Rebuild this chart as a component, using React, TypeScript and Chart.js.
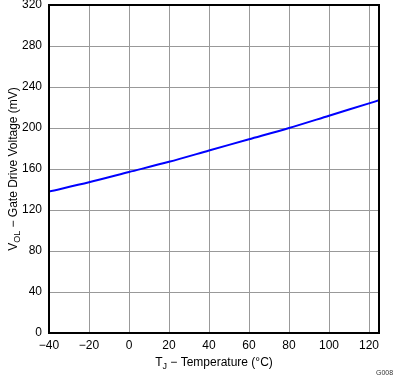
import React, { useEffect, useRef } from "react";
import { Chart, registerables } from "chart.js";

Chart.register(...registerables);

const temps = [-40, -20, 0, 20, 40, 60, 80, 100, 120, 125];
const vol = [138, 147, 157, 167, 178, 189, 200, 212, 224, 227];
const xTicks = [-40, -20, 0, 20, 40, 60, 80, 100, 120];
const yTicks = [0, 40, 80, 120, 160, 200, 240, 280, 320];

const FONT = "Liberation Sans, Arial, sans-serif";

type Seg = { t: string; sub?: boolean };
const yTitle: Seg[] = [{ t: "V" }, { t: "OL", sub: true }, { t: " \u2212 Gate Drive Voltage (mV)" }];
const xTitle: Seg[] = [{ t: "T" }, { t: "J", sub: true }, { t: " \u2212 Temperature (\u00B0C)" }];

function drawSegs(ctx: CanvasRenderingContext2D, segs: Seg[], cx: number, cy: number) {
  const main = `12px ${FONT}`;
  const sub = `9px ${FONT}`;
  let total = 0;
  for (const s of segs) {
    ctx.font = s.sub ? sub : main;
    total += ctx.measureText(s.t).width;
  }
  let x = cx - total / 2;
  ctx.textBaseline = "alphabetic";
  ctx.textAlign = "left";
  for (const s of segs) {
    ctx.font = s.sub ? sub : main;
    ctx.fillText(s.t, x, s.sub ? cy + 3 : cy);
    x += ctx.measureText(s.t).width;
  }
}

const framePlugin = {
  id: "frameTitles",
  afterDraw(chart: any) {
    const { ctx, chartArea } = chart;
    const { left, right, top, bottom } = chartArea;
    ctx.save();
    ctx.strokeStyle = "#000";
    ctx.lineWidth = 2;
    ctx.strokeRect(left, top, right - left, bottom - top);
    ctx.fillStyle = "#000";
    drawSegs(ctx, xTitle, (left + right) / 2, 366);
    ctx.save();
    ctx.translate(17, (top + bottom) / 2);
    ctx.rotate(-Math.PI / 2);
    drawSegs(ctx, yTitle, 0, 0);
    ctx.restore();
    ctx.font = `7px ${FONT}`;
    ctx.textAlign = "left";
    ctx.textBaseline = "alphabetic";
    ctx.fillStyle = "#333";
    ctx.fillText("G008", 376, 375);
    ctx.restore();
  },
};

export default function App() {
  const ref = useRef<HTMLCanvasElement>(null);
  useEffect(() => {
    document.body.style.margin = "0";
    const chart = new Chart(ref.current!, {
      type: "line",
      data: {
        datasets: [
          {
            data: temps.map((t, i) => ({ x: t, y: vol[i] })),
            borderColor: "#0000ff",
            borderWidth: 2,
            pointRadius: 0,
            tension: 0.3,
            fill: false,
          },
        ],
      },
      options: {
        animation: false,
        responsive: false,
        layout: { padding: { top: 5, right: 15, left: 0, bottom: 0 } },
        plugins: { legend: { display: false }, tooltip: { enabled: false } },
        scales: {
          x: {
            type: "linear",
            min: -40,
            max: 125,
            afterFit: (s: any) => {
              s.height = 44;
              s.paddingLeft = 0;
              s.paddingRight = 0;
            },
            afterBuildTicks: (s: any) => {
              s.ticks = xTicks.map((v) => ({ value: v }));
            },
            grid: { color: "#999", lineWidth: 1, drawTicks: false },
            border: { display: false },
            ticks: {
              padding: 5,
              color: "#000",
              font: { family: FONT, size: 12 },
              maxRotation: 0,
              callback: (v: any) => String(v).replace("-", "\u2212"),
            },
          },
          y: {
            type: "linear",
            min: 0,
            max: 320,
            afterFit: (s: any) => {
              s.width = 49;
              s.paddingTop = 0;
              s.paddingBottom = 0;
            },
            afterBuildTicks: (s: any) => {
              s.ticks = yTicks.map((v) => ({ value: v }));
            },
            grid: { color: "#999", lineWidth: 1, drawTicks: false },
            border: { display: false },
            ticks: {
              padding: 7,
              color: "#000",
              font: { family: FONT, size: 12 },
            },
          },
        },
      },
      plugins: [framePlugin],
    });
    return () => chart.destroy();
  }, []);
  return (
    <div style={{ position: "absolute", left: 0, top: 0, width: 394, height: 377 }}>
      <canvas ref={ref} width={394} height={377} style={{ display: "block", width: 394, height: 377 }} />
    </div>
  );
}
